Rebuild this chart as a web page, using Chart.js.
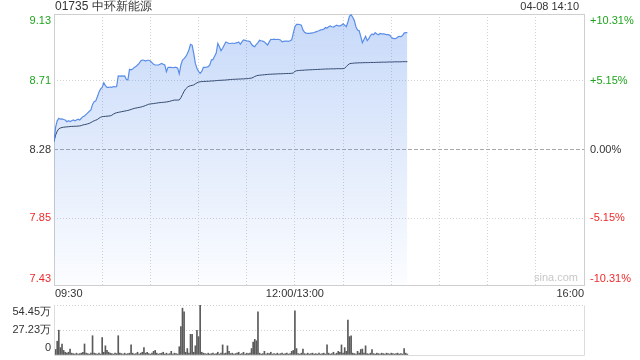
<!DOCTYPE html>
<html>
<head>
<meta charset="utf-8">
<script src="https://cdn.jsdelivr.net/npm/chart.js@4/dist/chart.umd.min.js"></script>
<style>
    html, body { margin: 0; padding: 0; background: #fff; }
    #wrap { position: relative; width: 640px; height: 360px; overflow: hidden; }
    #price-chart { position: absolute; left: 0; top: 0; }
    #vol-chart { position: absolute; left: 0; top: 300px; }
</style>
</head>
<body>
<div id="wrap">
    <canvas id="price-chart" width="640" height="300"></canvas>
    <canvas id="vol-chart" width="640" height="60"></canvas>
</div>
<script>
const stockTitle = '01735 中环新能源';
const stampText = '04-08 14:10';
const prevClose = 8.28;
const priceTicks = [9.13, 8.71, 8.28, 7.85, 7.43];
const pctLabels = ['+10.31%', '+5.15%', '0.00%', '-5.15%', '-10.31%'];
const timeLabels = ['09:30', '12:00/13:00', '16:00'];
const timeLabelMinutes = [0, 150, 330];
const volTicks = [54.45, 27.225, 0];
const volLabels = ['54.45万', '27.23万', '0'];

// one value per trading minute from 09:30 (lunch break removed)
const prices = [
    8.33, 8.42, 8.46, 8.476, 8.47, 8.472, 8.468, 8.465, 8.454, 8.46,
    8.455, 8.46, 8.465, 8.46, 8.465, 8.47, 8.465, 8.476, 8.486, 8.49,
    8.50, 8.51, 8.52, 8.528, 8.563, 8.58, 8.585, 8.611, 8.64, 8.66,
    8.67, 8.699, 8.68, 8.67, 8.67, 8.672, 8.67, 8.675, 8.673, 8.675,
    8.741, 8.74, 8.742, 8.74, 8.741, 8.72, 8.716, 8.783, 8.78, 8.785,
    8.795, 8.80, 8.81, 8.82, 8.835, 8.841, 8.84, 8.835, 8.84, 8.84,
    8.835, 8.825, 8.815, 8.81, 8.81, 8.81, 8.815, 8.82, 8.815, 8.81,
    8.768, 8.795, 8.795, 8.795, 8.793, 8.795, 8.795, 8.79, 8.754, 8.81,
    8.841, 8.85, 8.862, 8.88, 8.904, 8.94, 8.935, 8.883, 8.82, 8.79,
    8.77, 8.758, 8.77, 8.795, 8.795, 8.797, 8.80, 8.81, 8.841, 8.845,
    8.865, 8.885, 8.945, 8.925, 8.90, 8.915, 8.935, 8.954, 8.95, 8.945,
    8.945, 8.948, 8.945, 8.947, 8.95, 8.955, 8.94, 8.955, 8.967, 8.965,
    8.962, 8.96, 8.958, 8.94, 8.93, 8.925, 8.94, 8.95, 8.965, 8.962,
    8.96, 8.955, 8.945, 8.935, 8.955, 8.971, 8.97, 8.972, 8.97, 8.971,
    8.97, 8.967, 8.955, 8.958, 8.96, 8.96, 8.958, 8.962, 8.968, 9.01,
    9.05, 9.065, 9.065, 9.064, 9.06, 9.03, 9.015, 9.01, 9.008, 9.008,
    9.01, 9.012, 9.014, 9.018, 9.022, 9.025, 9.03, 9.032, 9.035, 9.045,
    9.042, 9.05, 9.055, 9.05, 9.048, 9.055, 9.06, 9.055, 9.055, 9.06,
    9.068, 9.06, 9.05, 9.08, 9.117, 9.125, 9.11, 9.09, 9.05, 9.03,
    9.025, 8.99, 8.95, 8.97, 8.99, 8.963, 8.975, 8.995, 9.005, 9.0,
    9.013, 9.005, 9.0, 9.008, 9.005, 9.005, 9.004, 9.0, 9.0, 8.998,
    8.985, 8.977, 8.976, 8.977, 8.985, 8.99, 8.988, 8.995, 9.01, 9.013, 9.013
];

const avgPrices = [
    8.33, 8.37, 8.395, 8.41, 8.415, 8.418, 8.42, 8.421, 8.422, 8.423,
    8.424, 8.425, 8.425, 8.426, 8.426, 8.427, 8.428, 8.43, 8.434, 8.436,
    8.438, 8.441, 8.444, 8.449, 8.455, 8.46, 8.464, 8.468, 8.476, 8.482,
    8.486, 8.487, 8.488, 8.489, 8.49, 8.491, 8.495, 8.502, 8.507, 8.511,
    8.513, 8.515, 8.517, 8.519, 8.521, 8.523, 8.525, 8.528, 8.531, 8.535,
    8.538, 8.54, 8.542, 8.544, 8.546, 8.549, 8.552, 8.556, 8.56, 8.564,
    8.566, 8.567, 8.568, 8.57, 8.571, 8.573, 8.574, 8.575, 8.576, 8.577,
    8.578, 8.58, 8.582, 8.585, 8.588, 8.59, 8.59, 8.59, 8.591, 8.605,
    8.625, 8.645, 8.66, 8.67, 8.677, 8.68, 8.682, 8.685, 8.692, 8.698,
    8.703, 8.705, 8.706, 8.707, 8.707, 8.708, 8.708, 8.709, 8.71, 8.71,
    8.711, 8.712, 8.713, 8.714, 8.714, 8.715, 8.715, 8.716, 8.717, 8.718,
    8.719, 8.72, 8.72, 8.721, 8.721, 8.722, 8.722, 8.723, 8.723, 8.724,
    8.724, 8.725, 8.727, 8.728, 8.732, 8.738, 8.742, 8.745, 8.746, 8.747,
    8.748, 8.749, 8.75, 8.751, 8.752, 8.752, 8.753, 8.753, 8.754, 8.754,
    8.755, 8.755, 8.755, 8.756, 8.756, 8.757, 8.757, 8.757, 8.758, 8.76,
    8.77, 8.774, 8.775, 8.776, 8.777, 8.777, 8.778, 8.779, 8.779, 8.78,
    8.78, 8.781, 8.781, 8.782, 8.782, 8.783, 8.783, 8.784, 8.784, 8.785,
    8.785, 8.785, 8.786, 8.786, 8.786, 8.786, 8.787, 8.787, 8.787, 8.787,
    8.787, 8.79, 8.80, 8.81, 8.818, 8.82, 8.821, 8.822, 8.823, 8.823,
    8.824, 8.824, 8.824, 8.825, 8.825, 8.825, 8.825, 8.826, 8.826, 8.826,
    8.826, 8.827, 8.827, 8.827, 8.828, 8.828, 8.828, 8.828, 8.829, 8.829,
    8.829, 8.829, 8.83, 8.83, 8.83, 8.83, 8.83, 8.831, 8.831, 8.831, 8.831
];

// volume per minute, in 万 shares
const volumes = [
    4, 6, 15, 27, 8, 12, 5, 3, 2, 3,
    6.5, 2, 1.5, 1, 2, 1, 1.5, 2, 3, 12,
    2, 1.5, 1, 2, 21, 2, 1.5, 1, 2, 1,
    19, 3, 10, 5, 3, 2, 1.5, 1, 2, 1.5,
    21, 2, 1.5, 1, 2, 1, 1.5, 2, 11, 2,
    1, 1.5, 3, 1, 2, 3, 8, 2, 3, 1.5,
    1, 2, 4, 5, 2, 1, 1.5, 2, 3, 1,
    2, 1, 1.5, 4, 1, 2, 1.5, 1, 9, 31,
    51, 47, 3, 7, 2, 22.5, 22.5, 3, 10, 27,
    20, 54.45, 3, 2, 1.5, 1, 2, 1, 1.5, 2,
    1, 1.5, 3, 1, 2, 11, 1.5, 2, 10, 4,
    1.5, 2, 1, 1.5, 2, 3, 1, 1.5, 3, 1,
    2, 1.5, 2, 7, 14, 17, 15.5, 47, 2, 1,
    1.5, 4, 1, 2, 1.5, 3, 1, 1.5, 1, 2,
    1, 1.5, 2, 1, 1.5, 2, 1, 1.5, 4, 5,
    48, 7, 1.5, 1, 2, 6.5, 1.5, 1, 2, 1,
    1.5, 2, 1, 1.5, 1, 2, 1, 1.5, 2, 1,
    11, 2, 1, 1.5, 3, 1, 2, 4, 3, 11,
    2, 8, 4, 38, 20, 21, 2, 1.5, 1, 4,
    2, 6, 6.5, 2, 10, 1.5, 1, 2, 6, 1.5,
    1, 2, 1.5, 1, 2, 1.5, 1, 2, 1.5, 1,
    2, 1.5, 1, 1.5, 2, 1, 1.5, 1, 7, 2, 1
];

const FONT = '"Liberation Sans", Arial, sans-serif';
const UP = '#1ea51e';
const DOWN = '#ee2a2a';
const TEXT = '#333';

function labelColor(v) {
    if (v > prevClose) return UP;
    if (v < prevClose) return DOWN;
    return TEXT;
}

const priceLabels = {
    id: 'priceLabels',
    beforeDatasetsDraw(chart) {
        const { ctx, chartArea: a } = chart;
        ctx.save();
        ctx.strokeStyle = '#cfcfcf';
        ctx.lineWidth = 1;
        ctx.strokeRect(Math.round(a.left) + 0.5, Math.round(a.top) + 0.5,
            Math.round(a.right - a.left), Math.round(a.bottom - a.top));
        ctx.restore();
    },
    afterDraw(chart) {
        const { ctx, chartArea: a, scales: { x, y } } = chart;
        ctx.save();
        ctx.textBaseline = 'middle';

        ctx.font = '12px ' + FONT;
        ctx.fillStyle = TEXT;
        ctx.textAlign = 'left';
        ctx.fillText(stockTitle, a.left + 1, 7);
        ctx.font = '11px ' + FONT;
        ctx.textAlign = 'right';
        ctx.fillText(stampText, a.right - 5, 7);

        priceTicks.forEach((v, i) => {
            let py = y.getPixelForValue(v);
            if (i === 0) py += 6.5;
            if (i === priceTicks.length - 1) py -= 6.5;
            ctx.fillStyle = labelColor(v);
            ctx.textAlign = 'right';
            ctx.fillText(v.toFixed(2), a.left - 3, py);
            ctx.textAlign = 'left';
            ctx.fillText(pctLabels[i], a.right + 6, py);
        });

        ctx.fillStyle = TEXT;
        timeLabels.forEach((t, i) => {
            const px = x.getPixelForValue(timeLabelMinutes[i]);
            ctx.textAlign = i === 0 ? 'left' : (i === timeLabels.length - 1 ? 'right' : 'center');
            ctx.fillText(t, i === 0 ? px + 1 : px, a.bottom + 9);
        });

        ctx.fillStyle = '#c8c8c8';
        ctx.textAlign = 'right';
        ctx.fillText('sina.com', a.right - 6, a.bottom - 7);
        ctx.restore();
    }
};

const priceChart = new Chart(document.getElementById('price-chart'), {
    type: 'line',
    data: {
        datasets: [
            {
                data: prices.map((p, i) => ({ x: i, y: p })),
                borderColor: '#5a8de8',
                borderWidth: 1.2,
                pointRadius: 0,
                tension: 0,
                fill: 'start',
                backgroundColor: (c) => {
                    const area = c.chart.chartArea;
                    if (!area) return 'rgba(70,130,235,0.15)';
                    const g = c.chart.ctx.createLinearGradient(0, area.top, 0, area.bottom);
                    g.addColorStop(0, 'rgba(70,130,235,0.30)');
                    g.addColorStop(1, 'rgba(70,130,235,0.02)');
                    return g;
                }
            },
            {
                data: avgPrices.map((p, i) => ({ x: i, y: p })),
                borderColor: '#2d394b',
                borderWidth: 1,
                pointRadius: 0,
                tension: 0,
                fill: false
            }
        ]
    },
    options: {
        responsive: false,
        animation: false,
        events: [],
        layout: { padding: { top: 14, right: 56, left: 0, bottom: 0 } },
        plugins: { legend: { display: false }, tooltip: { enabled: false } },
        scales: {
            x: {
                type: 'linear',
                min: 0,
                max: 330,
                ticks: { display: false, stepSize: 30 },
                grid: { color: '#d2d2d2', drawTicks: false },
                border: { display: false, dash: [1, 2] },
                afterFit: (s) => { s.height = 15; }
            },
            y: {
                min: 7.43,
                max: 9.13,
                afterBuildTicks: (s) => { s.ticks = priceTicks.map(v => ({ value: v })); },
                ticks: { display: false },
                grid: {
                    drawTicks: false,
                    color: (c) => (c.tick && c.tick.value === prevClose ? '#a9a9a9' : '#d2d2d2')
                },
                border: {
                    display: false,
                    dash: (c) => (c.tick && c.tick.value === prevClose ? [4, 2] : [1, 2])
                },
                afterFit: (s) => { s.width = 54; }
            }
        }
    },
    plugins: [priceLabels]
});

const volLabelsPlugin = {
    id: 'volLabels',
    afterDraw(chart) {
        const { ctx, chartArea: a, scales: { y } } = chart;
        ctx.save();
        ctx.strokeStyle = '#dcdcdc';
        ctx.lineWidth = 1;
        ctx.beginPath();
        const l = Math.round(a.left) + 0.5, r = Math.round(a.right) + 0.5;
        const t = Math.round(a.top) + 0.5, b = Math.round(a.bottom) + 0.5;
        ctx.moveTo(l, t); ctx.lineTo(l, b); ctx.lineTo(r, b); ctx.lineTo(r, t);
        ctx.stroke();

        ctx.font = '11px ' + FONT;
        ctx.fillStyle = TEXT;
        ctx.textAlign = 'right';
        ctx.textBaseline = 'middle';
        volTicks.forEach((v, i) => {
            let py = y.getPixelForValue(v);
            if (i === 0) py += 6.5;
            if (i === volTicks.length - 1) py -= 7;
            ctx.fillText(volLabels[i], a.left - 3, py);
        });
        ctx.restore();
    }
};

const volChart = new Chart(document.getElementById('vol-chart'), {
    type: 'bar',
    data: {
        datasets: [{
            data: volumes.map((v, i) => ({ x: i, y: v })),
            backgroundColor: '#5a5a5a',
            barThickness: 1,
            borderWidth: 0
        }]
    },
    options: {
        responsive: false,
        animation: false,
        events: [],
        layout: { padding: { top: 5, right: 56, left: 0, bottom: 0 } },
        plugins: { legend: { display: false }, tooltip: { enabled: false } },
        scales: {
            x: {
                type: 'linear',
                min: 0,
                max: 330,
                offset: false,
                ticks: { display: false },
                grid: { display: false },
                border: { display: false },
                afterFit: (s) => { s.height = 5; }
            },
            y: {
                min: 0,
                max: 54.45,
                afterBuildTicks: (s) => { s.ticks = volTicks.map(v => ({ value: v })); },
                ticks: { display: false },
                grid: {
                    drawTicks: false,
                    color: (c) => (c.tick && c.tick.value === 0 ? 'rgba(0,0,0,0)' : '#cfcfcf')
                },
                border: { display: false, dash: [1, 2] },
                afterFit: (s) => { s.width = 54; }
            }
        }
    },
    plugins: [volLabelsPlugin]
});
</script>
</body>
</html>
